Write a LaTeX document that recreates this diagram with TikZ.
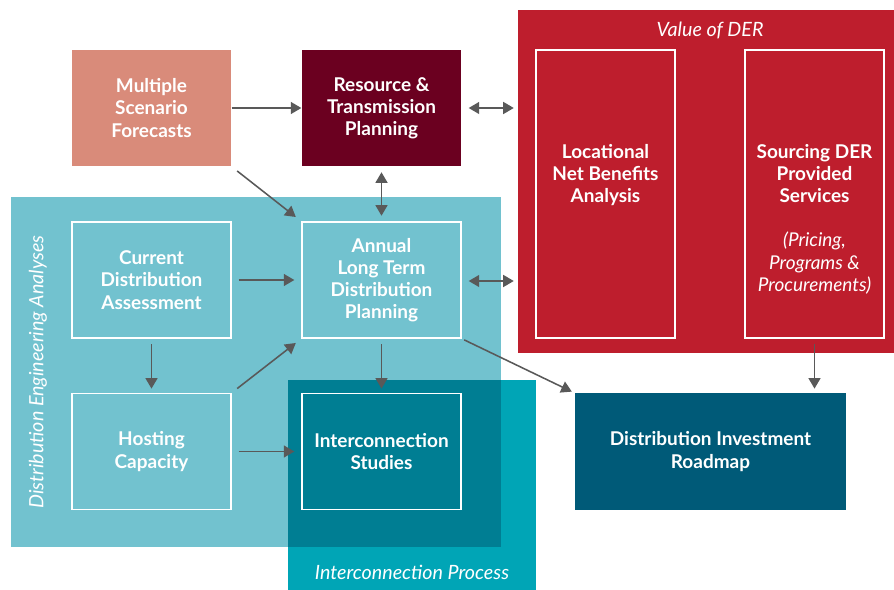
\documentclass[tikz,border=0pt]{standalone}
\usepackage{fontspec}
\setmainfont{Lato}
\usetikzlibrary{arrows.meta}
\definecolor{salmon}{RGB}{217,139,122}
\definecolor{maroon}{RGB}{107,0,32}
\definecolor{derred}{RGB}{190,30,45}
\definecolor{lightteal}{RGB}{114,194,207}
\definecolor{procteal}{RGB}{0,165,182}
\definecolor{darkteal}{RGB}{0,126,147}
\definecolor{roadblue}{RGB}{0,90,120}
\definecolor{arrowgrey}{RGB}{89,89,89}

\begin{document}
\begin{tikzpicture}[x=0.025cm, y=-0.025cm,
        box/.style={draw=white, line width=0.9pt, minimum width=3.975cm, minimum height=2.9cm,
            align=center, text=white, font=\bfseries\fontsize{13.5}{15.8}\selectfont},
        tallbox/.style={box, minimum width=3.475cm, minimum height=7.2cm},
        txt/.style={align=center, text=white, font=\bfseries\fontsize{13.5}{15.8}\selectfont},
        region/.style={font=\itshape\fontsize{14}{16}\selectfont, text=white},
        arr/.style={draw=arrowgrey, line width=1.1pt, -{Triangle[length=7.5pt, width=8.5pt]}},
        dblarr/.style={arr, {Triangle[length=7.5pt, width=8.5pt]}-{Triangle[length=7.5pt, width=8.5pt]}},
    ]
        \useasboundingbox (0,0) rectangle (894,590);

        % shaded areas behind the boxes
        \fill[derred] (518,10) rectangle (894,353);
        \fill[procteal] (288,380) rectangle (536,590);
        \fill[lightteal] (11,197) rectangle (501,547);
        \fill[darkteal] (288,380) rectangle (501,547);
        \node[region] (der) at (710,30) {Value of DER};
        \node[region] (icp) at (412,572) {Interconnection Process};
        \node[region, rotate=90] (dea) at (38,372) {Distribution Engineering Analyses};

        % boxes
        \node[box, draw=none, fill=salmon] (msf) at (151.5,108) {Multiple\\Scenario\\Forecasts};
        \node[box, draw=none, fill=maroon] (rtp) at (381.5,108) {Resource \&\\Transmission\\Planning};
        \node[box] (cda) at (151.5,280) {Current\\Distribution\\Assessment};
        \node[box] (ltdp) at (381.5,280) {Annual\\Long Term\\Distribution\\Planning};
        \node[box] (hc) at (151.5,451.5) {Hosting\\Capacity};
        \node[box] (ics) at (381.5,451.5) {Interconnection\\Studies};
        \node[box, draw=none, fill=roadblue, minimum width=6.775cm] (dir) at (710.5,451.5)
            {Distribution Investment\\Roadmap};
        \node[tallbox] (lnba) at (605.5,194) {};
        \node[txt] (lnbatxt) at (605.5,175) {Locational\\Net Benefits\\Analysis};
        \node[tallbox] (sds) at (814.5,194) {};
        \node[txt] (sdstxt) at (814.5,219) {Sourcing DER\\Provided\\Services\\ \\
            \normalfont\itshape (Pricing,\\\normalfont\itshape Programs \&\\\normalfont\itshape Procurements)};

        % connectors
        \coordinate (derw1) at (518,108);
        \coordinate (derw2) at (518,281);
        \draw[arr] (msf) -- (rtp);
        \draw[dblarr, shorten <=5pt, shorten >=3pt] (rtp) -- (derw1);
        \draw[arr, shorten <=5pt, shorten >=5pt] (msf.south east) -- (ltdp.north west);
        \draw[dblarr, shorten <=4pt, shorten >=4pt] (rtp) -- (ltdp);
        \draw[arr, shorten <=5pt, shorten >=5pt] (cda) -- (ltdp);
        \draw[dblarr, shorten <=5pt, shorten >=3pt] (ltdp.east |- derw2) -- (derw2);
        \draw[arr, shorten <=4pt, shorten >=3pt] (cda) -- (hc);
        \draw[arr, shorten <=5pt, shorten >=5pt] (hc.north east) -- (ltdp.south west);
        \draw[arr, shorten <=5pt, shorten >=5pt] (hc) -- (ics);
        \draw[arr, shorten <=4pt, shorten >=3pt] (ltdp) -- (ics);
        \draw[arr, shorten <=2pt, shorten >=2pt] (ltdp.south east) -- (dir.north west);
        \draw[arr, shorten <=4pt, shorten >=3pt] (sds.south) -- (dir.north -| sds.south);
\end{tikzpicture}
\end{document}
